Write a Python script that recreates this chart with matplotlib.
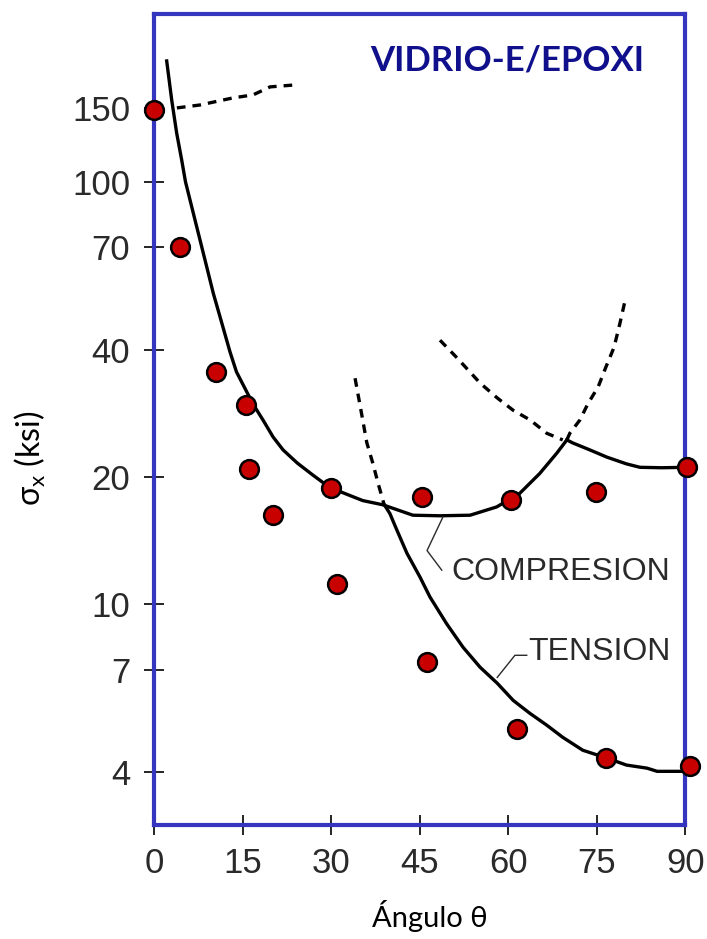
import matplotlib
matplotlib.use('Agg')
import matplotlib.pyplot as plt

# datos experimentales (angulo, esfuerzo en ksi)
ang_pts = [0, 4.4, 10.4, 15.5, 16.0, 20.1, 29.9, 30.9, 45.3, 46.2, 60.4, 61.4, 74.8, 76.5, 90.2, 90.8]
sig_pts = [148, 70.2, 35.5, 29.7, 20.9, 16.25, 18.9, 11.15, 17.9, 7.29, 17.7, 5.06, 18.4, 4.32, 21.1, 4.13]

# curva de compresion (rama en U), parte continua y parte punteada
compA_ang = [2.07, 2.92, 3.76, 4.61, 5.25, 6.58, 8.0, 8.85, 9.97, 11.1, 12.8, 13.9, 16.7, 18.4,
             20.1, 21.8, 24.2, 26.9, 29.7, 35.3, 38.7, 43.8, 48.4, 53.5, 58.0, 61.9, 65.3, 68.2, 69.9]
compA_sig = [193.5, 156.4, 130.6, 112.8, 100.2, 84.4, 70.3, 63.0, 54.5, 48.0, 39.6, 35.5, 29.8, 27.3,
             24.9, 23.2, 21.6, 20.2, 18.9, 17.6, 17.2, 16.25, 16.2, 16.25, 17.0, 18.3, 20.4, 22.8, 24.5]
compA_dash_ang = [69.9, 70.4, 72.1, 73.5, 75.2, 76.5, 77.9, 78.9, 79.7]
compA_dash_sig = [24.5, 25.4, 27.3, 29.9, 32.7, 36.4, 40.6, 46.3, 51.9]

# otra rama de compresion
compB_dash_ang = [48.4, 51.3, 55.2, 58.1, 60.8, 63.7, 66.5, 69.2]
compB_dash_sig = [42.2, 38.3, 33.4, 30.8, 28.8, 27.3, 25.4, 24.5]
compB_ang = [69.9, 70.9, 73.8, 76.7, 80.0, 82.3, 86.0, 90.1]
compB_sig = [24.5, 24.1, 23.2, 22.3, 21.5, 21.1, 21.05, 21.1]

# curva de tension
tens_dash_ang = [34.0, 34.9, 35.3, 36.0, 37.0, 37.9, 38.9]
tens_dash_sig = [34.3, 29.3, 27.3, 24.1, 21.6, 19.35, 17.26]
tens_ang = [38.9, 39.9, 41.1, 42.8, 45.0, 46.7, 49.5, 52.3, 55.2, 58.1, 60.8, 63.6, 66.5, 69.2,
            72.6, 76.7, 80.0, 83.5, 85.2, 90.3]
tens_sig = [17.26, 16.4, 14.97, 13.2, 11.6, 10.4, 9.0, 7.91, 7.09, 6.5, 5.92, 5.52, 5.17, 4.84,
            4.51, 4.32, 4.16, 4.09, 4.02, 4.02]

# tramo punteado superior
top_dash_ang = [3.8, 7.7, 13.3, 16.7, 19.6, 23.8]
top_dash_sig = [149.8, 152.2, 158.2, 160.8, 168, 169.8]

xticks = [0, 15, 30, 45, 60, 75, 90]
yticks = [4, 7, 10, 20, 40, 70, 100, 150]

fuente = ['Liberation Sans', 'DejaVu Sans']
calibri = ['Lato', 'DejaVu Sans']
plt.rcParams['mathtext.fontset'] = 'custom'
plt.rcParams['mathtext.rm'] = 'Lato'

fig = plt.figure(figsize=(7.07, 9.39), dpi=100)
ax = fig.add_axes([0.2185, 0.1214, 0.751, 0.8637])

lw = 2.4
dash = (0, (2.6, 2.1))
ax.plot(compA_ang, compA_sig, color='black', lw=lw)
ax.plot(compA_dash_ang, compA_dash_sig, color='black', lw=lw, linestyle=dash)
ax.plot(compB_dash_ang, compB_dash_sig, color='black', lw=lw, linestyle=dash)
ax.plot(compB_ang, compB_sig, color='black', lw=lw)
ax.plot(tens_dash_ang, tens_dash_sig, color='black', lw=lw, linestyle=dash)
ax.plot(tens_ang, tens_sig, color='black', lw=lw)
ax.plot(top_dash_ang, top_dash_sig, color='black', lw=lw, linestyle=dash)

ax.plot(ang_pts, sig_pts, 'o', color='#c80000', markeredgecolor='black',
        markersize=13.5, markeredgewidth=1.8, clip_on=False, zorder=5)

ax.set_yscale('log')
ax.set_xlim(0, 90)
ax.set_ylim(3.0, 250)
ax.set_xticks(xticks)
ax.set_yticks(yticks)
ax.set_yticklabels([str(v) for v in yticks])
ax.minorticks_off()
ax.tick_params(direction='inout', length=15, width=1.2, color='black', labelcolor='#2a2a2a')
ax.tick_params(axis='y', pad=10)
ax.tick_params(axis='x', pad=8)
for lab in ax.get_xticklabels() + ax.get_yticklabels():
    lab.set_family(fuente)
    lab.set_fontsize(25)

for s in ax.spines.values():
    s.set_color('#3535c0')
    s.set_linewidth(3)

# etiquetas de curvas con su linea guia
ax.text(50.4, 11.9, 'COMPRESION', fontsize=23, color='#2a2a2a', family=fuente,
        va='center', ha='left')
ax.plot([48.9, 46.2, 48.7], [16.1, 13.4, 12.04], color='#2a2a2a', lw=1.0)
ax.text(63.3, 7.69, 'TENSION', fontsize=23, color='#2a2a2a', family=fuente,
        va='center', ha='left')
ax.plot([63.1, 61.1, 58.1], [7.57, 7.57, 6.71], color='#2a2a2a', lw=1.0)

ax.text(0.664, 0.943, 'VIDRIO-E/EPOXI', transform=ax.transAxes, ha='center', va='center',
        fontsize=25, fontweight='bold', color='#10108c', family=calibri)

ax.set_xlabel('Ángulo θ', fontsize=21, family=calibri)
ax.xaxis.set_label_coords(0.518, -0.092)
ax.set_ylabel(r'σ$_\mathrm{x}$ (ksi)', fontsize=23, family=calibri)
ax.yaxis.set_label_coords(-0.2, 0.4525)

fig.savefig('out.png', dpi=100)
